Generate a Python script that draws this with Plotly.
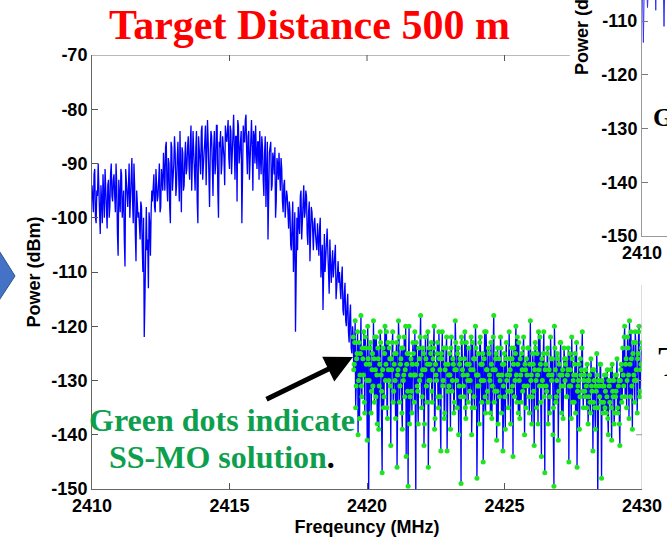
import numpy as np
import plotly.graph_objects as go

W, H = 667, 541

# ---------------- data ----------------
# Spectrum part 1: samples at 2410.000, 2410.050, ... 2419.450 MHz
freq_start_a = 2410.0
freq_step_a = 0.05
power_a = [
    -94, -99, -91, -101, -96, -93, -103, -97, -92, -100, -95, -102, -93, -98, -90, -97,
    -92, -99, -94, -107, -96, -91, -100, -95, -109, -93, -98, -90, -96, -89, -101, -94, -108, -97,
    -99, -104, -98, -110, -122, -103, -106, -113, -101, -99,
    -97, -92, -99, -94, -96, -90, -98, -93,
    -88, -95, -86, -97, -90, -101, -87, -93, -85, -96, -89, -92, -84, -99, -88, -94, -86, -91,
    -85, -93, -83, -90, -88, -95, -84, -101, -87, -92, -83, -89, -86, -94, -82, -91, -88, -85,
    -96, -84, -90, -83, -100, -87, -92, -85, -89, -83,
    -86, -82, -91, -84, -88, -81, -93, -85, -82, -90, -87, -101, -83, -86, -81, -92, -84, -89,
    -82, -95, -85, -83, -91, -86,
    -84, -92, -87, -96, -85, -90, -104, -88, -86, -94, -89, -87, -97, -90,
    -88, -95, -91, -99, -93, -97,
    -96, -102, -99, -106, -97, -104, -121, -100,
    -98, -103, -95, -101, -94, -99, -96, -105, -97, -102, -99, -106, -100, -104,
    -101, -107, -100, -109, -117, -103, -108, -102, -110, -104, -112, -106, -109, -105, -113, -108,
    -110, -115, -109, -118, -112, -120, -114, -123, -116, -125,
]
# Spectrum part 1, in-between samples: 2410.025, 2410.075, ... 2419.475 MHz
freq_start_a_mid = 2410.025
power_a_mid = [
    -97, -92, -100, -95, -90, -99, -94, -101, -96, -91, -98, -94, -100, -92, -96, -93,
    -96, -90, -103, -93, -99, -92, -97, -104, -91, -96, -94, -100, -92, -97, -90, -103, -95, -100,
    -102, -97, -105, -100, -115, -98, -104, -99, -107, -95,
    -94, -98, -91, -97, -93, -99, -91, -95,
    -92, -87, -94, -89, -98, -86, -95, -90, -88, -94, -86, -97, -90, -87, -95, -89, -92, -87,
    -90, -86, -95, -84, -92, -87, -97, -85, -91, -84, -93, -88, -83, -90, -86, -98, -84, -89,
    -87, -92, -83, -95, -86, -84, -90, -87, -94, -85,
    -84, -89, -83, -92, -82, -87, -85, -97, -83, -88, -84, -91, -86, -82, -88, -85, -93, -83,
    -87, -84, -90, -88, -86, -93,
    -89, -85, -93, -88, -98, -86, -91, -87, -95, -88, -92, -100, -89, -93,
    -92, -89, -97, -94, -100, -95,
    -100, -97, -105, -101, -110, -99, -103, -106,
    -101, -96, -104, -98, -100, -95, -103, -99, -108, -98, -104, -101, -103, -106,
    -104, -102, -111, -105, -103, -110, -104, -106, -114, -107, -109, -111, -106, -115, -110, -112,
    -113, -111, -117, -114, -119, -116, -121, -118, -124, -120,
]

# Spectrum part 2 (SS-MO solution, green dots): 2419.5000, 2419.5350, ... 2430 MHz
freq_start_b = 2419.5
freq_step_b = 0.035
power_b = [
    -122, -127, -119, -131, -125, -140, -123, -129, -118, -133, -126, -121, -136, -124, -130, -120, -151, -127, -123, -132,
    -125, -119, -134, -128, -122, -138, -126, -131, -121, -129, -147, -124, -133, -120, -127, -135, -123, -130, -126, -142,
    -128, -121, -132, -125, -137, -123, -129, -119, -134, -127, -124, -139, -130, -122, -128, -144, -125, -149.5, -120, -133,
    -126, -136, -123, -129, -121, -152, -127, -132, -124, -130, -118, -135, -128, -125, -138, -122, -131, -127, -146, -124,
    -130, -123, -134, -126, -120, -137, -129, -125, -133, -121, -128, -143, -126, -131, -124, -136, -127, -122, -132, -129,
    -125, -139, -122, -130, -127, -134, -119, -128, -135, -124, -131, -126, -149, -123, -129, -133, -121, -137, -127, -130,
    -124, -132, -128, -140, -123, -126, -135, -120, -129, -131, -125, -138, -122, -130, -127, -145, -126, -133, -121, -128,
    -134, -125, -130, -123, -137, -128, -118, -132, -126, -141, -124, -129, -133, -122, -136, -127, -131, -125, -139, -123,
    -129, -135, -121, -128, -132, -126, -144, -124, -130, -120, -134, -127, -123, -137, -129, -125, -132, -122, -140, -128,
    -126, -131, -124, -136, -119, -129, -133, -127, -142, -123, -130, -125, -138, -128, -122, -134, -126, -131, -121, -147,
    -127, -132, -124, -129, -136, -122, -130, -126, -135, -120, -128, -133, -125, -141, -127, -123, -131, -129, -137, -124,
    -130, -126, -133, -128, -145, -125, -131, -122, -134, -129, -127, -136, -123, -132, -130, -139, -126, -128, -121, -135,
    -129, -133, -131, -127, -138, -130, -134, -126, -132, -143, -128, -135, -131, -125, -152, -130, -133, -127, -148, -131,
    -134, -129, -132, -136, -128, -140, -131, -130, -135, -127, -133, -138, -129, -132, -126, -136, -130, -142, -128, -134,
    -124, -131, -120, -127, -135, -122, -129, -119, -133, -126, -139, -123, -130, -121, -128, -136, -125, -120, -132, -127,
    -123,
]
# Spectrum part 2, in-between samples: 2419.5175, 2419.5525, ... MHz
freq_start_b_mid = 2419.5175
power_b_mid = [
    -128, -123, -135, -126, -121, -130, -137, -125, -131, -124, -129, -134, -122, -127, -141, -126, -130, -124, -136, -128,
    -131, -126, -122, -133, -129, -124, -139, -127, -123, -132, -128, -135, -125, -130, -121, -137, -128, -124, -131, -126,
    -123, -134, -127, -130, -125, -146, -128, -122, -131, -126, -136, -124, -129, -133, -120, -127, -132, -125, -138, -129,
    -132, -127, -125, -134, -129, -123, -131, -138, -126, -122, -129, -133, -124, -142, -128, -126, -134, -121, -130, -127,
    -125, -132, -128, -124, -139, -127, -130, -123, -135, -126, -133, -125, -121, -130, -137, -128, -124, -143, -127, -131,
    -129, -124, -132, -126, -136, -128, -123, -130, -125, -140, -127, -133, -122, -128, -131, -126, -135, -123, -129, -134,
    -127, -130, -122, -135, -128, -133, -126, -124, -148, -129, -131, -123, -127, -134, -125, -130, -121, -136, -128, -132,
    -124, -129, -136, -127, -131, -122, -134, -128, -125, -132, -138, -126, -130, -124, -129, -143, -127, -133, -126, -130,
    -132, -126, -129, -138, -124, -131, -127, -133, -125, -129, -122, -136, -130, -126, -134, -128, -124, -131, -127, -135,
    -129, -124, -133, -127, -130, -138, -125, -132, -128, -124, -135, -129, -121, -131, -127, -144, -130, -125, -133, -128,
    -131, -125, -138, -128, -133, -126, -129, -140, -149.5, -124, -134, -130, -126, -132, -129, -123, -136, -128, -131, -126,
    -127, -133, -129, -124, -131, -128, -137, -126, -130, -134, -125, -129, -146, -131, -127, -133, -129, -124, -132, -130,
    -132, -128, -135, -130, -133, -129, -136, -131, -128, -134, -130, -139, -132, -129, -135, -131, -127, -134, -130, -136,
    -131, -135, -129, -133, -137, -130, -134, -128, -141, -132, -130, -136, -133, -129, -135, -131, -138, -130, -127, -133,
    -129, -122, -133, -126, -130, -124, -137, -127, -121, -131, -125, -129, -134, -123, -130, -126, -121, -133, -128, -124,
]

# Partially visible neighbouring chart (upper right)
mini_freq_start = 2410.0
mini_freq_step = 0.05
mini_power = [-98, -114, -97, -101, -107.5, -99, -96, -100, -104, -98,
              -108, -97, -99, -102, -103, -96, -111, -98, -100]

x_ticks = [2410, 2415, 2420, 2425, 2430]
x_tick_labels = ["2410", "2415", "2420", "2425", "2430"]
y_ticks = [-70, -80, -90, -100, -110, -120, -130, -140, -150]
y_tick_labels = ["-70", "-80", "-90", "-100", "-110", "-120", "-130", "-140", "-150"]
mini_y_ticks = [-110, -120, -130, -140, -150]
mini_x_ticks = [2410]

# sampling grids
freq_a = freq_start_a + freq_step_a * np.arange(len(power_a))
freq_a_mid = freq_start_a_mid + freq_step_a * np.arange(len(power_a_mid))
freq_b = freq_start_b + freq_step_b * np.arange(len(power_b))
freq_b_mid = freq_start_b_mid + freq_step_b * np.arange(len(power_b_mid))
mini_freq = mini_freq_start + mini_freq_step * np.arange(len(mini_power))

all_f = np.concatenate([freq_a, freq_a_mid, freq_b, freq_b_mid])
all_p = np.concatenate([power_a, power_a_mid, power_b, power_b_mid])
order = np.argsort(all_f, kind="stable")
all_f, all_p = all_f[order], all_p[order]

sol_f = np.concatenate([freq_b, freq_b_mid])
sol_p = np.concatenate([power_b, power_b_mid])
o2 = np.argsort(sol_f, kind="stable")
sol_f, sol_p = sol_f[o2], sol_p[o2]


# ---------------- helpers ----------------
def px(x):
    return x / W


def py(y):
    return 1 - y / H


SANS = "Liberation Sans, Arial, sans-serif"
SERIF = "Liberation Serif, Times New Roman, serif"
tick_font = dict(family=SANS, size=18, color="black", weight="bold")
title_font = dict(family=SANS, size=18, color="black", weight="bold")

fig = go.Figure()
fig.add_trace(go.Scatter(
    x=all_f, y=all_p, mode="lines", line=dict(color="#0000FF", width=1.3),
    showlegend=False, hoverinfo="skip"))
fig.add_trace(go.Scatter(
    x=sol_f, y=sol_p, mode="markers",
    marker=dict(color="#1EE61E", size=5, line=dict(width=0)),
    showlegend=False, hoverinfo="skip"))
fig.add_trace(go.Scatter(
    x=mini_freq, y=mini_power, xaxis="x2", yaxis="y2",
    mode="lines", line=dict(color="#3030FF", width=1),
    showlegend=False, hoverinfo="skip"))

fig.update_layout(
    width=W, height=H,
    margin=dict(l=0, r=0, t=0, b=0),
    paper_bgcolor="white", plot_bgcolor="white",
    xaxis=dict(
        domain=[px(92), px(642)], range=[2410, 2430], anchor="y",
        tickmode="array", tickvals=x_ticks, ticktext=x_tick_labels,
        ticks="inside", ticklen=6, tickcolor="#555", tickwidth=1,
        ticklabelstandoff=0,
        showline=True, linecolor="#666", linewidth=1,
        showgrid=False, zeroline=False, tickfont=tick_font,
        title=dict(text="Freqeuncy (MHz)", font=title_font, standoff=5),
        automargin=False,
    ),
    yaxis=dict(
        domain=[py(489), py(55)], range=[-150, -70], anchor="x",
        tickmode="array", tickvals=y_ticks, ticktext=y_tick_labels,
        ticks="inside", ticklen=6, tickcolor="#555", tickwidth=1,
        showline=True, linecolor="#666", linewidth=1,
        showgrid=False, zeroline=False, tickfont=tick_font,
        title=dict(text="Power (dBm)", font=title_font, standoff=6),
        automargin=False,
    ),
    xaxis2=dict(
        domain=[px(642), 1], range=[2410, 2410 + 25 / 27.5], anchor="y2",
        tickmode="array", tickvals=mini_x_ticks, ticktext=["2410"],
        ticks="inside", ticklen=6, tickcolor="#777",
        showline=True, linecolor="#999", linewidth=1,
        showgrid=False, zeroline=False, tickfont=tick_font, automargin=False,
    ),
    yaxis2=dict(
        domain=[py(236), 1], range=[-150, -150 + 236 / 5.375], anchor="x2",
        tickmode="array", tickvals=mini_y_ticks, ticktext=[str(v) for v in mini_y_ticks],
        ticks="inside", ticklen=6, tickcolor="#777",
        showline=True, linecolor="#999", linewidth=1,
        showgrid=False, zeroline=False, tickfont=tick_font, automargin=False,
    ),
)

# box of the main axes (top and right sides partly hidden behind other slide objects)
tick_dy = 6 / 5.425
tick_dx = 6 / 27.5
shapes = [
    dict(type="line", xref="x", yref="y", x0=2410, x1=2427.38, y0=-70, y1=-70,
         line=dict(color="#777", width=1)),
    dict(type="line", xref="x", yref="y", x0=2430, x1=2430, y0=-150, y1=-112.4,
         line=dict(color="#BBB", width=1)),
]
for t in [2415, 2420, 2425]:
    shapes.append(dict(type="line", xref="x", yref="y", x0=t, x1=t, y0=-70, y1=-70 - tick_dy,
                       line=dict(color="#555", width=1)))
for t in [-120, -130, -140]:
    shapes.append(dict(type="line", xref="x", yref="y", x0=2430, x1=2430 - tick_dx, y0=t, y1=t,
                       line=dict(color="#999", width=1)))
# blue block-arrow tip at left edge
shapes.append(dict(
    type="path", xref="paper", yref="paper",
    path=f"M {px(-2)} {py(249)} L {px(15)} {py(276)} L {px(-2)} {py(302)} Z",
    fillcolor="#4472C4", line=dict(color="#2F528F", width=1)))
fig.update_layout(shapes=shapes)

annotations = [
    dict(text="Target Distance 500 m", xref="paper", yref="paper", x=px(309.5), y=py(25),
         xanchor="center", yanchor="middle", showarrow=False,
         font=dict(family=SERIF, size=42, color="#FF0000", weight="bold")),
    dict(text="Green dots indicate", xref="paper", yref="paper", x=px(222), y=py(420),
         xanchor="center", yanchor="middle", showarrow=False,
         font=dict(family=SERIF, size=32, color="#0E9F4E", weight="bold")),
    dict(text="SS-MO solution<span style='color:black'>.</span>", xref="paper", yref="paper",
         x=px(221.5), y=py(457), xanchor="center", yanchor="middle", showarrow=False,
         font=dict(family=SERIF, size=32, color="#0E9F4E", weight="bold")),
    dict(text="", xref="x", yref="y", x=2419.49, y=-70 - (357 - 55) / 5.425,
         ax=-88, ay=43, showarrow=True, arrowhead=2, arrowsize=1.1, arrowwidth=5,
         arrowcolor="black"),
    dict(text="Power (dBm)", xref="paper", yref="paper", x=px(582), y=py(20),
         xanchor="center", yanchor="middle", textangle=-90, showarrow=False,
         font=title_font),
    dict(text="Green dots", xref="paper", yref="paper", x=px(651), y=py(118),
         xanchor="left", yanchor="middle", showarrow=False,
         font=dict(family=SERIF, size=26, color="black", weight="bold")),
    dict(text="Target", xref="paper", yref="paper", x=px(656), y=py(362),
         xanchor="left", yanchor="middle", showarrow=False,
         font=dict(family=SERIF, size=42, color="black")),
]
fig.update_layout(annotations=annotations)

fig.write_html("out.html")
